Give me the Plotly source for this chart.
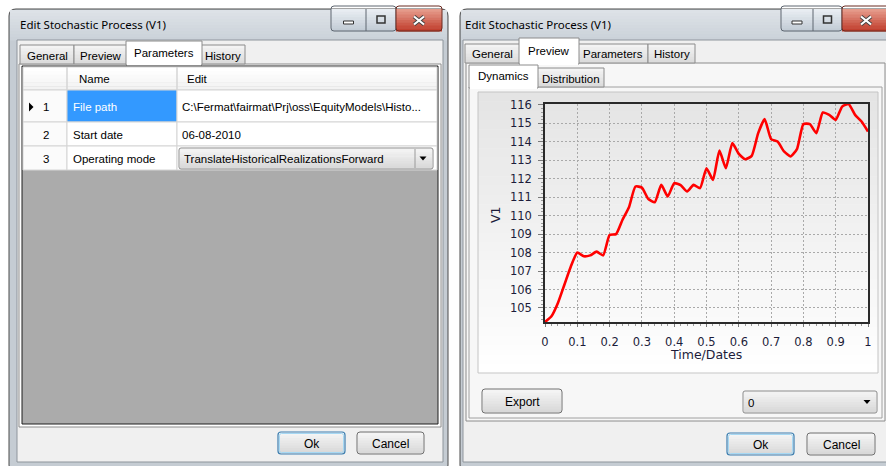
import plotly.graph_objects as go

W, H = 886, 466

# ---------------- data ----------------
time_dates = [0.00, 0.02, 0.04, 0.06, 0.08, 0.10, 0.12, 0.14, 0.16, 0.18,
              0.20, 0.22, 0.24, 0.26, 0.28, 0.30, 0.32, 0.34, 0.36, 0.38,
              0.40, 0.42, 0.44, 0.46, 0.48, 0.50, 0.52, 0.54, 0.56, 0.58,
              0.60, 0.62, 0.64, 0.66, 0.68, 0.70, 0.72, 0.74, 0.76, 0.78,
              0.80, 0.82, 0.84, 0.86, 0.88, 0.90, 0.92, 0.94, 0.96, 0.98, 1.00]
v1 = [104.24, 104.55, 105.27, 106.26, 107.25, 108.00, 107.80, 107.85, 108.05, 107.85,
      108.95, 109.00, 109.78, 110.46, 111.58, 111.52, 110.90, 110.73, 111.67, 111.04,
      111.76, 111.65, 111.31, 111.67, 111.49, 112.57, 111.94, 113.53, 112.57, 113.93,
      113.35, 113.06, 113.24, 114.47, 115.23, 114.15, 114.02, 113.48, 113.21, 113.60,
      114.96, 114.96, 114.47, 115.59, 115.46, 115.19, 115.91, 116.05, 115.46, 115.10, 114.56]

window_title = "Edit Stochastic Process (V1)"
tab_labels = ["General", "Preview", "Parameters", "History"]
subtab_labels = ["Dynamics", "Distribution"]
grid_headers = ["Name", "Edit"]
row_ids = ["1", "2", "3"]
param_names = ["File path", "Start date", "Operating mode"]
param_values = ["C:\\Fermat\\fairmat\\Prj\\oss\\EquityModels\\Histo...",
                "06-08-2010",
                "TranslateHistoricalRealizationsForward"]
realization_choice = "0"

UI = "Liberation Sans, Arial, sans-serif"
TITLEF = "Noto Sans, Open Sans, sans-serif"
CHARTF = "DejaVu Sans, Verdana, sans-serif"

shapes = []
annots = []


def X(x):
    return x / W


def Y(y):
    return 1 - y / H


def rect(x0, y0, x1, y1, fill="rgba(0,0,0,0)", line=None, lw=1):
    shapes.append(dict(type="rect", xref="paper", yref="paper",
                       x0=X(x0), x1=X(x1), y0=Y(y1), y1=Y(y0),
                       fillcolor=fill,
                       line=dict(color=line if line else "rgba(0,0,0,0)",
                                 width=lw if line else 0),
                       layer="below"))


def rrect(x0, y0, x1, y1, r, fill="rgba(0,0,0,0)", line=None, lw=1):
    rx, ry = r / W, r / H
    a, b, c, d = X(x0), X(x1), Y(y0), Y(y1)
    p = (f"M{a+rx},{c} L{b-rx},{c} Q{b},{c} {b},{c-ry} L{b},{d+ry} "
         f"Q{b},{d} {b-rx},{d} L{a+rx},{d} Q{a},{d} {a},{d+ry} "
         f"L{a},{c-ry} Q{a},{c} {a+rx},{c} Z")
    shapes.append(dict(type="path", xref="paper", yref="paper", path=p,
                       fillcolor=fill,
                       line=dict(color=line if line else "rgba(0,0,0,0)",
                                 width=lw if line else 0),
                       layer="below"))


def poly(pts, fill, line=None, lw=1):
    p = "M" + " L".join(f"{X(x)},{Y(y)}" for x, y in pts) + " Z"
    shapes.append(dict(type="path", xref="paper", yref="paper", path=p,
                       fillcolor=fill,
                       line=dict(color=line if line else "rgba(0,0,0,0)",
                                 width=lw if line else 0),
                       layer="below"))


def seg(x0, y0, x1, y1, color, lw=1):
    shapes.append(dict(type="line", xref="paper", yref="paper",
                       x0=X(x0), x1=X(x1), y0=Y(y0), y1=Y(y1),
                       line=dict(color=color, width=lw), layer="below"))


def hexc(c):
    c = c.lstrip("#")
    return [int(c[i:i + 2], 16) for i in (0, 2, 4)]


def vgrad(x0, y0, x1, y1, ctop, cbot, n=12):
    a, b = hexc(ctop), hexc(cbot)
    h = (y1 - y0) / n
    for i in range(n):
        f = i / max(n - 1, 1)
        col = "rgb(%d,%d,%d)" % tuple(round(a[k] + (b[k] - a[k]) * f) for k in range(3))
        rect(x0, y0 + i * h, x1, y0 + (i + 1) * h + 0.4, fill=col)


def text(x, y, s, size=11.5, color="#000000", anchor="left", font=UI, angle=0):
    annots.append(dict(x=X(x), y=Y(y), xref="paper", yref="paper", text=s,
                       showarrow=False, xanchor=anchor, yanchor="middle",
                       textangle=angle,
                       font=dict(family=font, size=size, color=color)))


def button(x0, y0, x1, y1, label, default=False):
    vgrad(x0 + 1, y0 + 1, x1 - 1, y1 - 1, "#f4f4f4", "#d9d9d9", 8)
    if default:
        rrect(x0, y0, x1, y1, 3, line="#3c7fb1", lw=1.2)
        rrect(x0 + 1.5, y0 + 1.5, x1 - 1.5, y1 - 1.5, 2, line="#a6d8f3", lw=1)
    else:
        rrect(x0, y0, x1, y1, 3, line="#707070", lw=1)
    text((x0 + x1) / 2, (y0 + y1) / 2 + 0.5, label, size=12, anchor="center")


def combo(x0, y0, x1, y1, label, divider=False):
    vgrad(x0 + 1, y0 + 1, x1 - 1, y1 - 1, "#f2f2f2", "#dadada", 8)
    rrect(x0, y0, x1, y1, 2, line="#8a8a8a", lw=1)
    if divider:
        seg(x1 - 18, y0 + 1, x1 - 18, y1 - 1, "#9a9a9a")
    cx, cy = x1 - 10, (y0 + y1) / 2
    poly([(cx - 3.5, cy - 2), (cx + 3.5, cy - 2), (cx, cy + 2)], "#000000")
    text(x0 + 3, cy + 0.5, label, size=11.5)


def caption_buttons(xm, xx, xc, xe, y0, y1):
    # minimize / maximize
    vgrad(xm, y0, xc, y1, "#e8edf2", "#c3ccd6", 8)
    rrect(xm, y0 - 3, xc, y1, 3, line="#5e6670", lw=1)
    seg(xx, y0, xx, y1, "#5e6670")
    mx = (xm + xx) / 2
    rect(mx - 5, y1 - 10, mx + 5, y1 - 7, fill="#ffffff", line="#333333", lw=1)
    ax = (xx + xc) / 2
    rect(ax - 4, y0 + 7, ax + 4, y1 - 8, fill="rgba(0,0,0,0)", line="#333333", lw=1.5)
    # close
    vgrad(xc, y0, xe, y1, "#e59a8a", "#c2402f", 8)
    rrect(xc, y0 - 3, xe, y1, 3, line="#6a2a20", lw=1)
    cx, cy = (xc + xe) / 2, (y0 + y1) / 2 + 0.5
    if xe > 886:
        cx = 866
    seg(cx - 5, cy - 4, cx + 5, cy + 4, "#404040", 4)
    seg(cx - 5, cy + 4, cx + 5, cy - 4, "#404040", 4)
    seg(cx - 5, cy - 4, cx + 5, cy + 4, "#ffffff", 2.2)
    seg(cx - 5, cy + 4, cx + 5, cy - 4, "#ffffff", 2.2)


def tabs(xs, sel, y_top, y_sel, y_bot, labels):
    for i, lab in enumerate(labels):
        x0, x1 = xs[i], xs[i + 1]
        if i == sel:
            continue
        vgrad(x0, y_top, x1, y_bot, "#f3f3f3", "#dcdcdc", 6)
        rect(x0, y_top, x1, y_bot, line="#8c8c8c")
        text((x0 + x1) / 2, (y_top + y_bot) / 2 + 1, lab, size=11.5, anchor="center")
    x0, x1 = xs[sel], xs[sel + 1]
    rect(x0 - 1, y_sel, x1 + 1, y_bot + 1, fill="#ffffff", line="#8c8c8c")
    rect(x0, y_bot - 1, x1, y_bot + 2, fill="#ffffff")
    text((x0 + x1) / 2, (y_sel + y_bot) / 2, labels[sel], size=11.5, anchor="center")


# ---------------- LEFT WINDOW ----------------
rrect(9, 9, 448, 472, 7, fill="#c5ccd3", line="#4a4a4a")
vgrad(10, 10, 447, 40, "#dde2e7", "#cbd2d9", 10)
text(18, 25, window_title, size=11.5, font=TITLEF)
caption_buttons(331, 366, 396, 442, 9, 31)
rect(17, 40, 443, 462, fill="#f0f0f0", line="#8e959c")
# tab page
rect(19, 64, 441, 427, fill="#ffffff", line="#8c8c8c")
tabs([20, 74, 127, 201, 245], 2, 45, 41, 64, tab_labels)
# grid
rect(22, 66, 438, 424, fill="#ababab", line="#1e1e1e")
col_x = [23, 67, 177, 437]
row_y = [67, 90, 122, 146, 170]
vgrad(23, 67, 437, 90, "#ffffff", "#f3f3f3", 6)
for j in range(3):
    rect(col_x[j], row_y[0], col_x[j + 1], row_y[1], line="#d5d5d5")
for i in range(3):
    for j in range(3):
        fill = "#ffffff"
        if i == 0 and j == 1:
            fill = "#3399ff"
        if j == 0:
            fill = "#fbfbfb"
        rect(col_x[j], row_y[i + 1], col_x[j + 1], row_y[i + 2], fill=fill, line="#d5d5d5")
text(77, 79, grid_headers[0])
text(185, 79, grid_headers[1])
poly([(29, 102.5), (29, 111.5), (33.5, 107)], "#000000")
for i in range(3):
    cy = (row_y[i + 1] + row_y[i + 2]) / 2 + 0.5
    text(46, cy, row_ids[i], anchor="center")
    text(71, cy, param_names[i], color="#ffffff" if i == 0 else "#000000")
    if i < 2:
        text(180, cy, param_values[i])
combo(179, 148, 433, 169, param_values[2], divider=True)
# bottom buttons
button(278, 432, 345, 454, "Ok", default=True)
button(357, 432, 424, 454, "Cancel")

# ---------------- RIGHT WINDOW ----------------
rrect(460, 9, 900, 472, 7, fill="#c5ccd3", line="#4a4a4a")
vgrad(461, 10, 899, 40, "#dde2e7", "#cbd2d9", 10)
text(463, 25, window_title, size=11.5, font=TITLEF)
caption_buttons(781, 813, 842, 900, 9, 31)
rect(463, 40, 892, 462, fill="#f0f0f0", line="#8e959c")
rect(466, 63, 885, 421, fill="#f7f7f7", line="#8c8c8c")
tabs([465, 520, 578, 648, 695], 1, 44, 38, 63, tab_labels)
rect(469, 87, 882, 418, fill="#f7f7f7", line="#a0a0a0")
tabs([470, 537, 604], 0, 68, 65, 87, subtab_labels)
# chart panel
vgrad(478, 92, 878, 373, "#e4e4e4", "#ffffff", 30)
rect(478, 92, 878, 373, line="#c4c4c4")
button(482, 389, 562, 413, "Export")
combo(743, 391, 877, 413, realization_choice)
button(727, 433, 794, 455, "Ok", default=True)
button(807, 433, 875, 455, "Cancel")

# axis titles
text(495, 215, "V1", size=12.5, color="#1c1c3a", anchor="center", font=CHARTF, angle=-90)
text(706, 354, "Time/Dates", size=12.5, color="#1c1c3a", anchor="center", font=CHARTF)

# ---------------- chart ----------------
fig = go.Figure()
fig.add_trace(go.Scatter(x=time_dates, y=v1, mode="lines",
                         line=dict(color="#ff0000", width=2.6, shape="spline", smoothing=0.5),
                         hoverinfo="skip"))

axis_common = dict(showgrid=True, gridcolor="#a9a9a9", gridwidth=1, griddash="2px,2px",
                   showline=True, linecolor="#2a2a2a", linewidth=1.5, mirror=True,
                   zeroline=False, ticks="outside", tickcolor="#7a7a7a",
                   tickfont=dict(family=CHARTF, size=11.5, color="#1c1c3a"),
                   fixedrange=True, automargin=False)

fig.update_layout(
    width=W, height=H, margin=dict(l=0, r=0, t=0, b=0),
    paper_bgcolor="#ffffff", plot_bgcolor="rgba(0,0,0,0)",
    showlegend=False,
    xaxis=dict(domain=[545 / W, 868 / W], range=[0, 1], dtick=0.1, tick0=0,
               ticklen=3, ticklabelstandoff=5,
               minor=dict(dtick=0.02, ticks="outside", ticklen=2, tickcolor="#9a9a9a", showgrid=False),
               **axis_common),
    yaxis=dict(domain=[1 - 322 / H, 1 - 104 / H], range=[min(v1), max(v1)], dtick=1, tick0=0,
               ticklen=5, ticklabelstandoff=4,
               minor=dict(dtick=0.2, ticks="outside", ticklen=2, tickcolor="#9a9a9a", showgrid=False),
               **axis_common),
    shapes=shapes, annotations=annots,
)

fig.write_html("out.html", config={"displayModeBar": False},
               post_script="document.body.style.margin='0';document.body.style.overflow='hidden';")
